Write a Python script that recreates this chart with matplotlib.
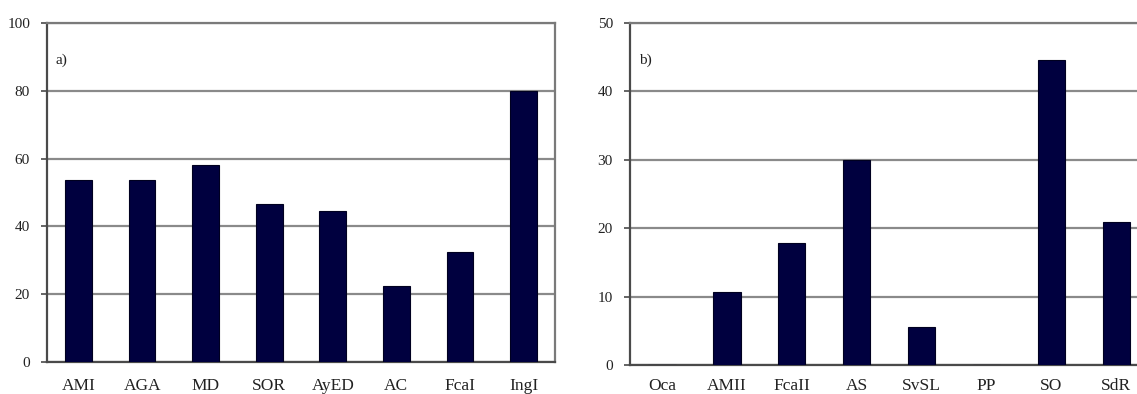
import matplotlib
matplotlib.use("Agg")
import matplotlib.pyplot as plt

# panel a)
cats_a = ["AMI", "AGA", "MD", "SOR", "AyED", "AC", "FcaI", "IngI"]
vals_a = [53.6, 53.6, 58.2, 46.7, 44.4, 22.4, 32.3, 80.0]

# panel b)
cats_b = ["Oca", "AMII", "FcaII", "AS", "SvSL", "PP", "SO", "SdR"]
vals_b = [0, 10.6, 17.8, 30.0, 5.6, 0, 44.6, 20.9]

BAR = "#00003f"
GRID = "#8a8a8a"
AXIS = "#4a4a4a"

plt.rcParams["font.family"] = ["Liberation Serif", "DejaVu Serif"]


def draw(ax, cats, vals, ymax, step, tag, xpad):
    x = range(len(cats))
    ax.bar(x, vals, width=0.42, color=BAR, edgecolor="#000020", linewidth=0.8, zorder=3)
    ax.set_xlim(-0.5, len(cats) - 0.5)
    ax.set_ylim(0, ymax)
    ax.set_yticks(range(0, ymax + 1, step))
    ax.set_xticks(list(x))
    ax.set_xticklabels(cats)
    ax.tick_params(axis="x", length=0, pad=xpad, labelsize=12.5, labelcolor="#222222")
    ax.tick_params(axis="y", length=4, width=1.2, color=AXIS, pad=8, labelsize=11,
                   labelcolor="#222222")
    ax.yaxis.grid(True, color=GRID, linewidth=1.6, zorder=0)
    ax.set_axisbelow(True)
    for s in ("left", "bottom"):
        ax.spines[s].set_color(AXIS)
        ax.spines[s].set_linewidth(1.6)
    for s in ("top", "right"):
        ax.spines[s].set_color("#7a7a7a")
        ax.spines[s].set_linewidth(1.6)
    ax.text(0.018, 0.88, tag, transform=ax.transAxes, fontsize=11, color="#222222")


fig = plt.figure(figsize=(11.37, 3.94), dpi=100)
ax_a = fig.add_axes([0.0411, 0.082, 0.4473, 0.859])
ax_b = fig.add_axes([0.5537, 0.0736, 0.4565, 0.8688])

draw(ax_a, cats_a, vals_a, 100, 20, "a)", 12)
draw(ax_b, cats_b, vals_b, 50, 10, "b)", 9)

fig.savefig("out.png", dpi=100, facecolor="white")
